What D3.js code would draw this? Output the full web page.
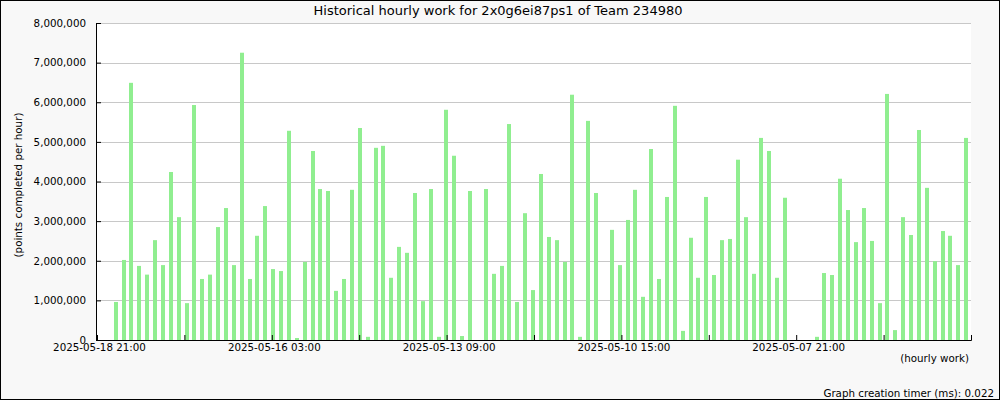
<!DOCTYPE html>
<html>
<head>
<meta charset="utf-8">
<script src="https://cdn.jsdelivr.net/npm/d3@7"></script>
<style>
  html, body { margin: 0; padding: 0; background: #ffffff; }
  svg { display: block; font-family: "DejaVu Sans", sans-serif; }
</style>
</head>
<body>
<svg id="chart" width="1000" height="400"></svg>
<script>
// ---- data ----
const chartTitle = "Historical hourly work for 2x0g6ei87ps1 of Team 234980";
const yAxisTitle = "(points completed per hour)";
const xAxisTitle = "(hourly work)";
const footerText = "Graph creation timer (ms): 0.022";

// hourly work, one bar per 3-hour slot, newest on the left (in millions of points)
const hourlyWorkM = [
  0, 0, 0.96, 2.02, 6.49, 1.87, 1.65, 2.52, 1.89, 4.24,
  3.10, 0.93, 5.93, 1.54, 1.65, 2.85, 3.33, 1.89, 7.25, 1.54,
  2.63, 3.38, 1.79, 1.74, 5.28, 0.05, 1.97, 4.77, 3.81, 3.76,
  1.24, 1.54, 3.79, 5.35, 0.08, 4.85, 4.90, 1.57, 2.35, 2.20,
  3.71, 0.98, 3.81, 0.08, 5.81, 4.65, 0.10, 3.76, 0, 3.81,
  1.67, 1.87, 5.45, 0.96, 3.20, 1.26, 4.19, 2.60, 2.52, 1.97,
  6.19, 0.08, 5.53, 3.71, 0, 2.78, 1.89, 3.03, 3.79, 1.09,
  4.82, 1.54, 3.61, 5.91, 0.23, 2.58, 1.57, 3.61, 1.64, 2.52,
  2.55, 4.55, 3.10, 1.67, 5.10, 4.77, 1.57, 3.59, 0, 0,
  0, 0.08, 1.69, 1.64, 4.07, 3.28, 2.47, 3.33, 2.50, 0.93,
  6.21, 0.25, 3.10, 2.65, 5.30, 3.84, 1.99, 2.75, 2.63, 1.89,
  5.10
];
const hourlyWork = hourlyWorkM.map(v => v * 1e6);

const yTickValues = [0, 1e6, 2e6, 3e6, 4e6, 5e6, 6e6, 7e6, 8e6];
const xTickCount = 11;
const xTickLabels = ["2025-05-18 21:00", "2025-05-16 03:00", "2025-05-13 09:00", "2025-05-10 15:00", "2025-05-07 21:00"];

// ---- layout ----
const W = 1000, H = 400;
const plot = { left: 97, right: 971, top: 23, bottom: 340 };

const svg = d3.select("#chart");

// background + border
svg.append("rect").attr("x", 0.5).attr("y", 0.5).attr("width", W - 1).attr("height", H - 1)
  .attr("fill", "#f8f8f8").attr("stroke", "#000").attr("stroke-width", 1);

// plot background
svg.append("rect").attr("x", plot.left).attr("y", plot.top)
  .attr("width", plot.right - plot.left).attr("height", plot.bottom - plot.top)
  .attr("fill", "#ffffff");

// scales
const y = d3.scaleLinear().domain([0, 8e6]).range([plot.bottom, plot.top]);
const slot = d3.scaleLinear().domain([0, hourlyWork.length]).range([plot.left, plot.right]);
const xt = d3.scaleLinear().domain([0, xTickCount - 1]).range([plot.left, plot.right]);

// gridlines
svg.append("g").selectAll("line").data(yTickValues.slice(1)).join("line")
  .attr("x1", plot.left).attr("x2", plot.right)
  .attr("y1", d => Math.round(y(d)) + 0.5).attr("y2", d => Math.round(y(d)) + 0.5)
  .attr("stroke", "#c8c8c8").attr("stroke-width", 1);

// bars
svg.append("g").selectAll("rect").data(hourlyWork).join("rect")
  .attr("x", (d, i) => Math.round(slot(i)) + 1)
  .attr("width", 4)
  .attr("y", d => y(d))
  .attr("height", d => y(0) - y(d))
  .attr("fill", "#90ee90");

// y axis
const yAxis = d3.axisLeft(y).tickValues(yTickValues).tickSize(-5).tickPadding(10)
  .tickFormat(d3.format(",d"));
const gy = svg.append("g").attr("transform", `translate(${plot.left - 1},0)`).call(yAxis);
gy.select(".domain").attr("stroke", "#000");
gy.selectAll(".tick line").attr("stroke", "#000");
gy.selectAll("text").attr("font-size", "10.3px").attr("fill", "#000")
  .attr("font-family", "DejaVu Sans");

// x axis
const xAxis = d3.axisBottom(xt).ticks(xTickCount).tickValues(d3.range(xTickCount))
  .tickSize(-5).tickPadding(4)
  .tickFormat(i => (i % 2 === 0 ? xTickLabels[i / 2] : ""));
const gx = svg.append("g").attr("transform", `translate(0,${plot.bottom})`).call(xAxis);
gx.select(".domain").attr("stroke", "#000");
gx.selectAll(".tick line").attr("stroke", "#000");
gx.selectAll("text").attr("font-size", "10.3px").attr("fill", "#000")
  .attr("font-family", "DejaVu Sans").attr("dx", 2);

// titles
svg.append("text").attr("x", 498).attr("y", 15).attr("text-anchor", "middle")
  .attr("font-size", "13px").attr("fill", "#000").text(chartTitle);

svg.append("text").attr("transform", "translate(22,185) rotate(-90)")
  .attr("text-anchor", "middle").attr("font-size", "10.3px").attr("fill", "#000")
  .text(yAxisTitle);

svg.append("text").attr("x", 969).attr("y", 362).attr("text-anchor", "end")
  .attr("font-size", "10.3px").attr("fill", "#000").text(xAxisTitle);

svg.append("text").attr("x", 994).attr("y", 397).attr("text-anchor", "end")
  .attr("font-size", "10.3px").attr("fill", "#000").text(footerText);
</script>
</body>
</html>
